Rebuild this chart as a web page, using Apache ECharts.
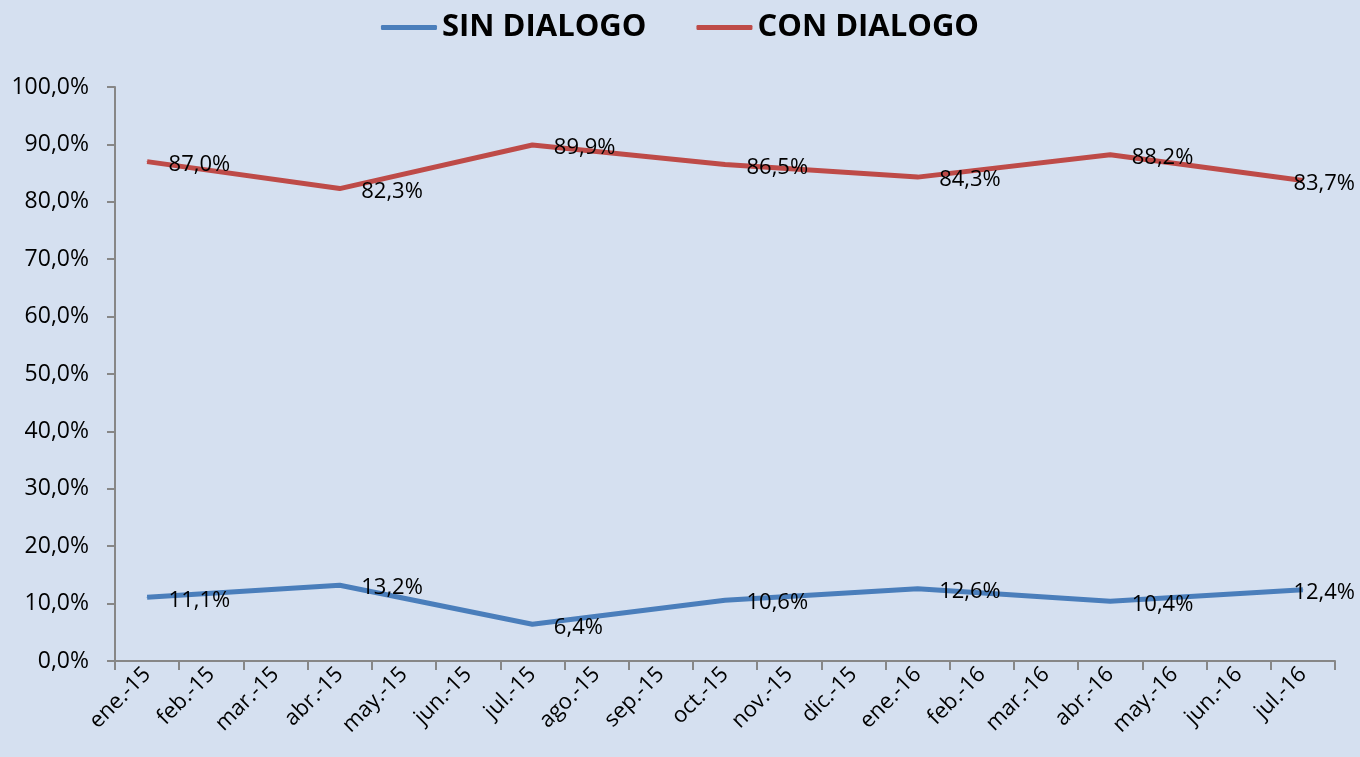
<!DOCTYPE html>
<html>
<head>
<meta charset="utf-8">
<script src="https://cdn.jsdelivr.net/npm/echarts@6/dist/echarts.min.js"></script>
<style>
  html, body { margin: 0; padding: 0; }
  #chart { width: 1360px; height: 757px; }
</style>
</head>
<body>
<div id="chart"></div>
<script>
var months = ['ene.-15', 'feb.-15', 'mar.-15', 'abr.-15', 'may.-15', 'jun.-15', 'jul.-15',
    'ago.-15', 'sep.-15', 'oct.-15', 'nov.-15', 'dic.-15', 'ene.-16', 'feb.-16',
    'mar.-16', 'abr.-16', 'may.-16', 'jun.-16', 'jul.-16'];

// solo hay datos trimestrales, el resto queda vacio
var sinDialogo = [11.1, null, null, 13.2, null, null, 6.4, null, null, 10.6, null, null,
    12.6, null, null, 10.4, null, null, 12.4];
var conDialogo = [87.0, null, null, 82.3, null, null, 89.9, null, null, 86.5, null, null,
    84.3, null, null, 88.2, null, null, 83.7];

var yTicks = [0, 10, 20, 30, 40, 50, 60, 70, 80, 90, 100];

function pct(v) {
    return v.toFixed(1).replace('.', ',') + '%';
}

var font = 'Open Sans, Noto Sans, sans-serif';

// la ultima etiqueta no cabe a la derecha, se corre hacia la izquierda
function points(values) {
    return values.map(function (v, i) {
        if (v !== null && i === values.length - 1) {
            return { value: v, label: { offset: [-31, 3] } };
        }
        return v;
    });
}

function makeSeries(name, values, color) {
    return {
        name: name,
        type: 'line',
        data: points(values),
        connectNulls: true,
        showSymbol: true,
        symbol: 'circle',
        symbolSize: 1,
        itemStyle: { color: color },
        color: color,
        lineStyle: { width: 5, color: color },
        label: {
            show: true,
            position: 'right',
            distance: 21,
            offset: [0, 3],
            fontSize: 22,
            color: '#000',
            fontFamily: font,
            formatter: function (p) { return pct(p.value); }
        }
    };
}

var option = {
    backgroundColor: '#d5e0f0',
    textStyle: { fontFamily: font },
    legend: {
        top: 7,
        left: 'center',
        itemWidth: 56,
        itemHeight: 5,
        itemGap: 50,
        icon: 'roundRect',
        textStyle: { fontSize: 31, fontWeight: 'bold', color: '#000', fontFamily: font },
        data: ['SIN DIALOGO', 'CON DIALOGO']
    },
    grid: { left: 115, right: 25, top: 87, bottom: 96, containLabel: false },
    xAxis: {
        type: 'category',
        data: months,
        boundaryGap: true,
        axisLine: { lineStyle: { color: '#878787', width: 2 } },
        axisTick: { show: true, length: 9, lineStyle: { color: '#878787', width: 2 } },
        axisLabel: { rotate: 45, interval: 0, fontSize: 22, color: '#000', margin: 10 }
    },
    yAxis: {
        type: 'value',
        min: yTicks[0],
        max: yTicks[yTicks.length - 1],
        interval: 10,
        axisLine: { show: true, lineStyle: { color: '#878787', width: 2 } },
        axisTick: { show: true, length: 8, lineStyle: { color: '#878787', width: 2 } },
        splitLine: { show: false },
        axisLabel: { fontSize: 23, color: '#000', margin: 26, formatter: pct }
    },
    series: [
        makeSeries('SIN DIALOGO', sinDialogo, '#4a7ebb'),
        makeSeries('CON DIALOGO', conDialogo, '#be4b48')
    ]
};

var myChart = echarts.init(document.getElementById('chart'));
myChart.setOption(option);
</script>
</body>
</html>
